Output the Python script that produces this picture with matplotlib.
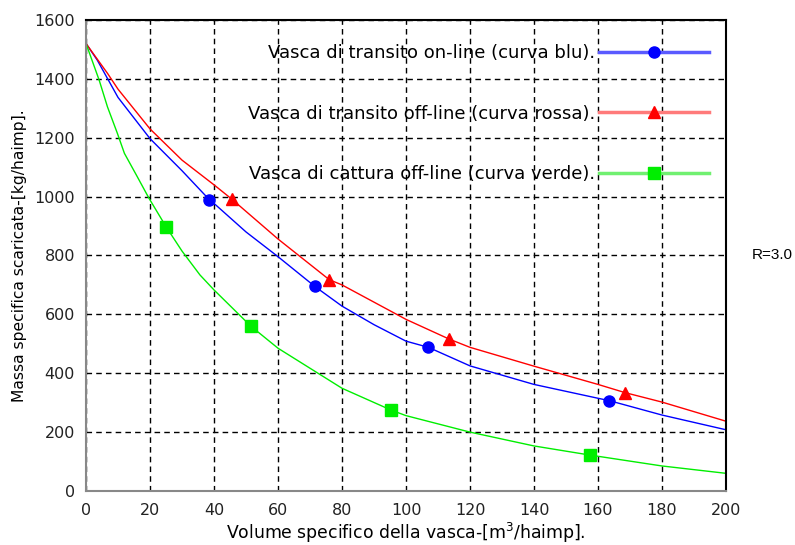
import matplotlib
matplotlib.use("Agg")
import matplotlib.pyplot as plt

plt.rcParams['font.family'] = ['DejaVu Sans']

# curve points (x: m3/haimp, y: kg/haimp)
blue_x = [0, 3.5, 10, 20, 30, 38.5, 40, 50, 60, 71.5, 80, 90, 100, 107, 120, 140, 160, 163.5, 180, 200]
blue_y = [1520, 1464, 1337, 1197, 1088, 990, 977, 880, 796, 695, 628, 565, 509, 488, 425, 362, 315, 307, 258, 208]
blue_marks = [5, 9, 13, 17]

red_x = [0, 6.7, 10, 20, 30, 40, 45.5, 60, 76, 80, 100, 113.5, 120, 140, 160, 168.5, 180, 200]
red_y = [1520, 1419, 1365, 1230, 1124, 1040, 992, 856, 718, 700, 583, 516, 488, 424, 362, 334, 302, 237]
red_marks = [6, 8, 11, 15]

green_x = [0, 4.1, 6.7, 9.8, 12, 16, 19.7, 25, 30, 35.6, 40, 51.5, 60, 80, 95.3, 100, 120, 140, 157.5, 180, 200]
green_y = [1520, 1396, 1305, 1215, 1147, 1068, 994, 898, 815, 734, 683, 560, 485, 349, 275, 256, 200, 153, 122, 85, 60]
green_marks = [7, 11, 14, 18]

labels = ["Vasca di transito on-line (curva blu).",
          "Vasca di transito off-line (curva rossa).",
          "Vasca di cattura off-line (curva verde)."]

fig = plt.figure(figsize=(7.95, 5.45), dpi=100)
ax = fig.add_axes([0.1082, 0.0991, 0.805, 0.8642])

ax.plot(blue_x, blue_y, color='#0000ff', lw=1, marker='o', ms=8,
        mfc='#0000ff', mec='#0000ff', markevery=blue_marks, label=labels[0])
ax.plot(red_x, red_y, color='#ff0000', lw=1, marker='^', ms=9,
        mfc='#ff0000', mec='#ff0000', markevery=red_marks, label=labels[1])
ax.plot(green_x, green_y, color='#00ee00', lw=1, marker='s', ms=8,
        mfc='#00ee00', mec='#00ee00', markevery=green_marks, label=labels[2])

ax.set_xlim(0, 200)
ax.set_ylim(0, 1600)
ax.set_xticks(range(0, 201, 20))
ax.set_yticks(range(0, 1601, 200))
ax.grid(True, color='black', linestyle=(0, (4, 3)), linewidth=1)
ax.tick_params(length=0, labelsize=11.5, colors='#222222')
ax.tick_params(axis='y', pad=8)
ax.tick_params(axis='x', pad=9)

for side in ['top', 'right']:
    ax.spines[side].set_color('black')
    ax.spines[side].set_linewidth(1.5)
for side in ['left', 'bottom']:
    ax.spines[side].set_color('#888888')
    ax.spines[side].set_linewidth(1.5)

ax.set_xlabel("Volume specifico della vasca-[m$^3$/haimp].", fontsize=12.4, labelpad=2)
ax.set_ylabel("Massa specifica scaricata-[kg/haimp].", fontsize=11.2, labelpad=5.5)

leg = ax.legend(loc='upper right', bbox_to_anchor=(1.012, 1.0), frameon=False,
                markerfirst=False, numpoints=1, fontsize=13.0, handlelength=6.1,
                handletextpad=0.2, labelspacing=2.35, borderaxespad=0.95)
for h, c in zip(leg.get_lines(), ['#5a5aff', '#ff7a7a', '#70f070']):
    h.set_linewidth(2.5)
    h.set_color(c)

ax.text(1.04, 800, "R=3.0", transform=ax.get_yaxis_transform(),
        fontsize=11, va='center', ha='left', family='Liberation Sans')

fig.savefig("out.png", dpi=100)
